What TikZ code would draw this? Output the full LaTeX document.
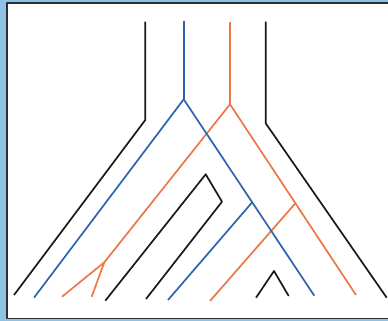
\documentclass[tikz,border=0pt]{standalone}
\usetikzlibrary{calc}
\definecolor{bgblue}{RGB}{142,195,230}
\definecolor{framecol}{RGB}{45,45,50}
\definecolor{lblue}{RGB}{45,100,175}
\definecolor{lorange}{RGB}{236,120,72}
\definecolor{lblack}{RGB}{25,25,25}
\begin{document}
\begin{tikzpicture}[x=1pt,y=-1pt,line join=round,
  strand/.style={line width=1.7pt}]
\useasboundingbox (0,0) rectangle (388,321);
\clip (0,0) rectangle (388,321);
\fill[bgblue] (0,0) rectangle (388,321);
\filldraw[fill=white,draw=framecol,line width=1.6pt] (6.8,2.8) rectangle (400,318.6);
% coordinates
\coordinate (k1t) at (145.3,21.7);
\coordinate (k1m) at (145.3,120);
\coordinate (k1b) at (14,295);
\coordinate (bt) at (183.7,20.7);
\coordinate (bj) at (183.7,99.3);
\coordinate (bl) at (34,297.7);
\coordinate (br) at (314.3,295.7);
\coordinate (bs) at ($(bj)!0.5244!(br)$);
\coordinate (bsb) at (168,300);
\coordinate (ot) at (230,21.7);
\coordinate (oj) at (230,104.3);
\coordinate (ofork) at (104.3,262.3);
\coordinate (ofa) at (62,296.7);
\coordinate (ofb) at (91.7,296.7);
\coordinate (or) at (356,295);
\coordinate (os) at ($(oj)!0.519!(or)$);
\coordinate (osb) at (210,301);
\coordinate (k2t) at (265.7,21.7);
\coordinate (k2m) at (265.7,123.3);
\coordinate (k2b) at (386.7,297.7);
\coordinate (h1) at (105.3,300.7);
\coordinate (h2) at (205.7,174.3);
\coordinate (h3) at (222,201.7);
\coordinate (h4) at (146,299);
\coordinate (c1) at (256,297.7);
\coordinate (c2) at (274,271);
\coordinate (c3) at (288.7,296);
% strands
\draw[strand,lblack] (k1t) -- (k1m) -- (k1b);
\draw[strand,lblack] (k2t) -- (k2m) -- (k2b);
\draw[strand,lblack] (h1) -- (h2) -- (h3) -- (h4);
\draw[strand,lblack] (c1) -- (c2) -- (c3);
\draw[strand,lorange] (ot) -- (oj);
\draw[strand,lorange] (ofork) -- (oj) -- (or);
\draw[strand,lorange] (ofa) -- (ofork) -- (ofb);
\draw[strand,lorange] (os) -- (osb);
\draw[strand,lblue] (bt) -- (bj);
\draw[strand,lblue] (bl) -- (bj) -- (br);
\draw[strand,lblue] (bs) -- (bsb);
\end{tikzpicture}
\end{document}
